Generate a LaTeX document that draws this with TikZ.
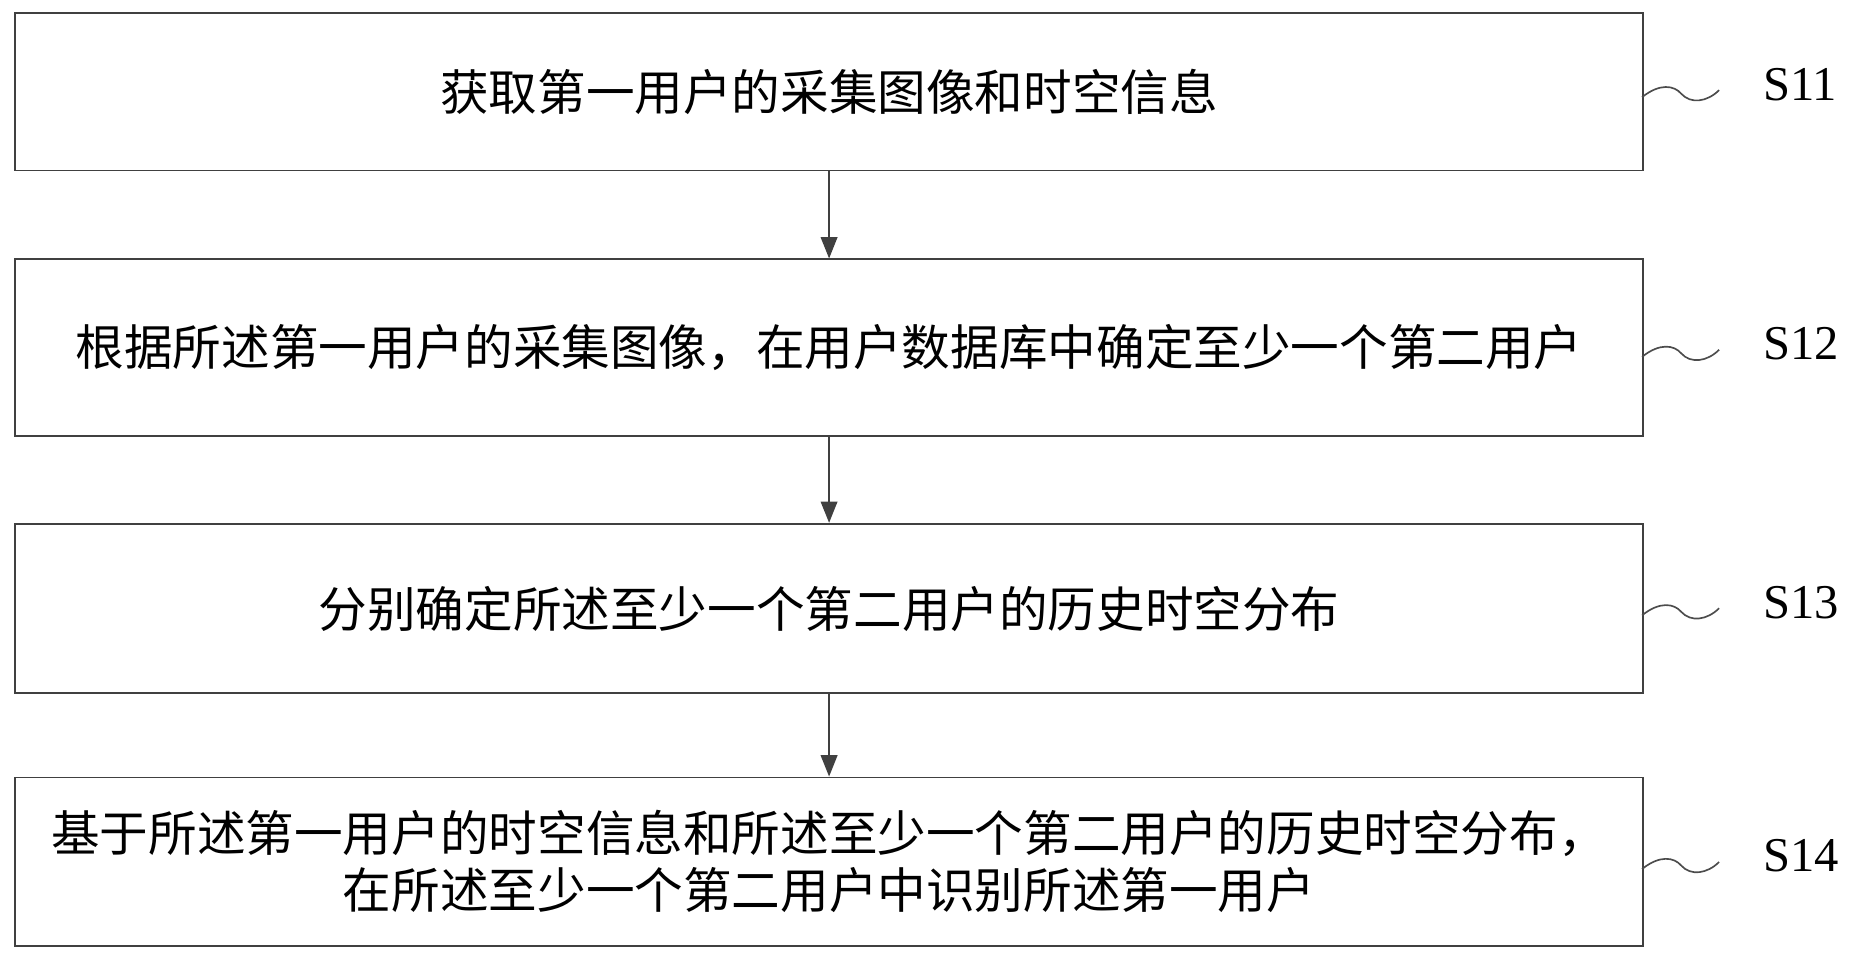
\documentclass[tikz,border=0pt]{standalone}
\usepackage{fontspec}
\setmainfont{Liberation Serif}
\newfontfamily\cjks{Noto Sans CJK SC}
\usetikzlibrary{arrows.meta}
\begin{document}
\begin{tikzpicture}[x=0.5pt,y=-0.5pt,
  stepbox/.style={draw=black!75,line width=0.8pt,minimum width=686.5pt,anchor=north west,inner sep=0pt,font=\cjks\fontsize{20.5}{24}\selectfont,align=center},
  arr/.style={draw=black!75,line width=0.8pt,-{Triangle[length=9pt,width=7pt]}},
  lab/.style={font=\fontsize{20.5}{24}\selectfont},
  sq/.style={draw=black!70,line width=0.7pt}]
\useasboundingbox (0,0) rectangle (1568,810);
\node[stepbox,minimum height=66.5pt] (b1) at (12,10) {获取第一用户的采集图像和时空信息};
\node[stepbox,minimum height=74.5pt] (b2) at (12,218) {根据所述第一用户的采集图像，在用户数据库中确定至少一个第二用户};
\node[stepbox,minimum height=71.5pt] (b3) at (12,441) {分别确定所述至少一个第二用户的历史时空分布};
\node[stepbox,minimum height=71pt] (b4) at (12,655) {基于所述第一用户的时空信息和所述至少一个第二用户的历史时空分布，\\在所述至少一个第二用户中识别所述第一用户};
\draw[arr] (b1.south) -- (b2.north);
\draw[arr] (b2.south) -- (b3.north);
\draw[arr] (b3.south) -- (b4.north);
\foreach \y/\t [count=\i] in {76/S11,295/S12,513/S13,727/S14}{
  \node[lab,anchor=west] (s\i) at (1480,\y-5) {\t};
  \coordinate (p\i) at (1385,\y+6);
  \coordinate (q\i) at (1450,\y);
  \draw[sq] (p\i) .. controls (1400,\y-6) and (1412,\y-4) .. (1418,\y+3) .. controls (1426,\y+12) and (1440,\y+10) .. (q\i);
}
\end{tikzpicture}
\end{document}
